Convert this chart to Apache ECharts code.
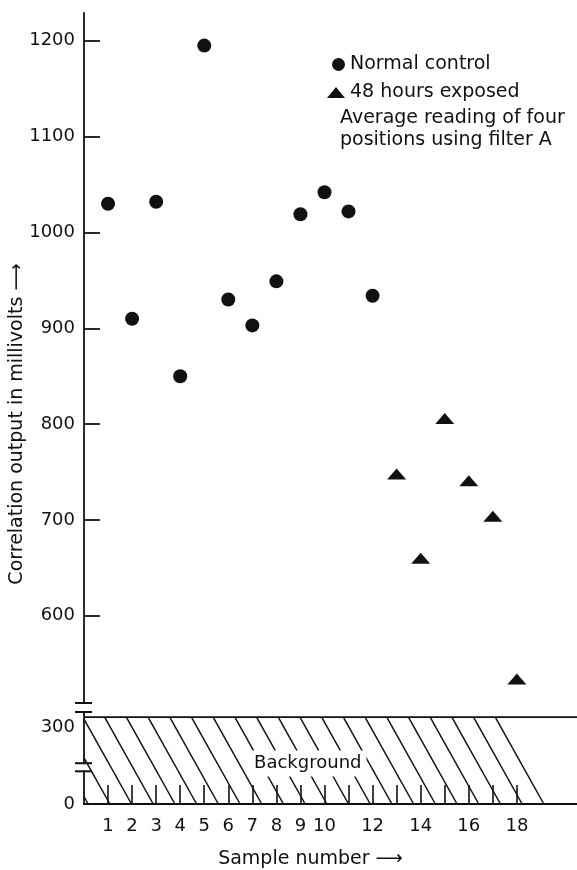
<!DOCTYPE html>
<html>
<head>
<meta charset="utf-8">
<script src="https://cdn.jsdelivr.net/npm/echarts@6/dist/echarts.min.js"></script>
<style>
html, body { margin: 0; padding: 0; background: #fff; }
#chart { width: 577px; height: 870px; }
</style>
</head>
<body>
<div id="chart"></div>
<script>
// sample numbers and readings (mV)
const controlSamples = [1, 2, 3, 4, 5, 6, 7, 8, 9, 10, 11, 12]
const controlValues = [1030, 910, 1032, 850, 1195, 930, 903, 949, 1019, 1042, 1022, 934]
const exposedSamples = [13, 14, 15, 16, 17, 18]
const exposedValues = [748, 660, 806, 741, 704, 534]

const sampleTicks = [1, 2, 3, 4, 5, 6, 7, 8, 9, 10, 11, 12, 13, 14, 15, 16, 17, 18]
const sampleLabels = [1, 2, 3, 4, 5, 6, 7, 8, 9, 10, 12, 14, 16, 18]
const upperTicks = [600, 700, 800, 900, 1000, 1100, 1200]
const lowerTicks = [0, 300]

const backgroundLevel = 300
const backgroundEnd = 17.1   // where the hatching stops along its top edge
const lowerBreak = [113, 141]

const FONT = 'DejaVu Sans'
const INK = '#111'

const chart = echarts.init(document.getElementById('chart'))

const hatch = (params, api) => {
  const cs = params.coordSys
  const origin = api.coord([0, 0])
  const corner = api.coord([backgroundEnd, backgroundLevel])
  const axisX = origin[0], yTop = corner[1], yBot = origin[1]
  const slope = 0.56, gap = 21.7
  const kids = []
  kids.push({ type: 'line', shape: { x1: axisX, y1: yTop, x2: cs.x + cs.width, y2: yTop }, style: { stroke: INK, lineWidth: 1.8 } })
  for (let k = 0; k < 60; k++) {
    const xt = corner[0] - k * gap
    const xb = xt + slope * (yBot - yTop)
    if (xb <= axisX + 1) break
    let x1 = xt, y1 = yTop
    if (xt < axisX) { x1 = axisX; y1 = yTop + (axisX - xt) / slope }
    kids.push({ type: 'line', shape: { x1, y1, x2: xb, y2: yBot }, style: { stroke: INK, lineWidth: 1.5 } })
  }
  const midX = (axisX + (corner[0] + corner[0] + slope * (yBot - yTop)) / 2) / 2
  kids.push({
    type: 'text', z2: 10,
    style: {
      text: 'Background', x: midX + 6, y: (yTop + yBot) / 2 + 3, align: 'center', verticalAlign: 'middle',
      font: `18px "${FONT}"`, fill: INK, backgroundColor: '#fff', padding: [4, 5],
    },
  })
  // axis break marks
  const brk = (y) => ({ type: 'line', shape: { x1: axisX - 9, y1: y, x2: axisX + 8, y2: y }, style: { stroke: INK, lineWidth: 2 } })
  kids.push(brk(cs.y), brk(cs.y - 9))
  const b0 = api.coord([0, lowerBreak[0]])[1], b1 = api.coord([0, lowerBreak[1]])[1]
  kids.push({ type: 'rect', shape: { x: axisX - 2, y: b1 + 1, width: 4, height: b0 - b1 - 2 }, style: { fill: '#fff' } })
  kids.push(brk(b0), brk(b1))
  return { type: 'group', children: kids }
}

chart.setOption({
  backgroundColor: '#fff',
  animation: false,
  textStyle: { fontFamily: FONT, color: INK },
  title: {
    text: 'Average reading of four\npositions using filter A',
    left: 340, top: 107, padding: 0,
    textStyle: { fontFamily: FONT, fontSize: 19, fontWeight: 'normal', color: INK, lineHeight: 22 },
  },
  legend: [
    {
      data: [{ name: 'Normal control', icon: 'circle' }], selectedMode: false,
      left: 332, top: 55, padding: 0, itemWidth: 13, itemHeight: 13,
      textStyle: { fontFamily: FONT, fontSize: 19, color: INK },
    },
    {
      data: [{ name: '48 hours exposed', icon: 'triangle' }], selectedMode: false,
      left: 327, top: 83, padding: 0, itemWidth: 18, itemHeight: 11,
      textStyle: { fontFamily: FONT, fontSize: 19, color: INK },
    },
  ],
  grid: [
    { left: 84, right: 0, top: 13, bottom: 167 },
    { left: 84, right: 0, top: 712, bottom: 54 },
  ],
  xAxis: [
    { gridIndex: 0, type: 'value', min: 0, max: 20.5, show: false },
    {
      gridIndex: 1, type: 'value', min: 0, max: 20.5,
      name: 'Sample number ⟶', nameLocation: 'middle', nameGap: 46,
      nameTextStyle: { fontFamily: FONT, fontSize: 19, color: INK, padding: [0, 40, 0, 0] },
      axisLine: { lineStyle: { color: INK, width: 1.8 } },
      axisTick: { inside: true, length: 19, customValues: sampleTicks, lineStyle: { color: INK, width: 1.6 } },
      axisLabel: { customValues: sampleLabels, margin: 13, fontSize: 18, color: INK, fontFamily: FONT },
      splitLine: { show: false },
    },
  ],
  yAxis: [
    {
      gridIndex: 0, type: 'value', min: 509, max: 1229,
      axisLine: { show: true, lineStyle: { color: INK, width: 1.8 } },
      axisTick: { show: true, inside: true, length: 16, customValues: upperTicks, lineStyle: { color: INK, width: 1.8 } },
      axisLabel: { customValues: upperTicks, margin: 9, fontSize: 18, color: INK, fontFamily: FONT, formatter: (v) => String(v) },
      splitLine: { show: false },
    },
    {
      gridIndex: 1, type: 'value', min: 0, max: 318,
      axisLine: { show: true, lineStyle: { color: INK, width: 1.8 } },
      axisTick: { show: false },
      axisLabel: {
        customValues: lowerTicks, margin: 9, fontSize: 18, color: INK, fontFamily: FONT,
        formatter: (v) => v === 300 ? '{lo|300}' : String(v),
        rich: { lo: { fontSize: 18, fontFamily: FONT, color: INK, padding: [20, 0, 0, 0] } },
      },
      splitLine: { show: false },
    },
  ],
  graphic: [{
    type: 'text', x: 17, y: 424, rotation: Math.PI / 2,
    style: { text: 'Correlation output in millivolts ⟶', font: `19px "${FONT}"`, fill: INK, align: 'center', verticalAlign: 'middle' },
  }],
  series: [
    {
      name: 'Normal control', type: 'scatter', xAxisIndex: 0, yAxisIndex: 0,
      symbol: 'circle', symbolSize: 14, itemStyle: { color: INK, opacity: 1 },
      data: controlSamples.map((s, i) => [s, controlValues[i]]),
    },
    {
      name: '48 hours exposed', type: 'scatter', xAxisIndex: 0, yAxisIndex: 0,
      symbol: 'triangle', symbolSize: [19, 11], itemStyle: { color: INK, opacity: 1 },
      data: exposedSamples.map((s, i) => [s, exposedValues[i]]),
    },
    {
      name: 'background', type: 'custom', xAxisIndex: 1, yAxisIndex: 1, clip: false, silent: true,
      renderItem: hatch, data: [[0, backgroundLevel]],
    },
  ],
})
window.addEventListener('resize', () => chart.resize())
</script>
</body>
</html>
